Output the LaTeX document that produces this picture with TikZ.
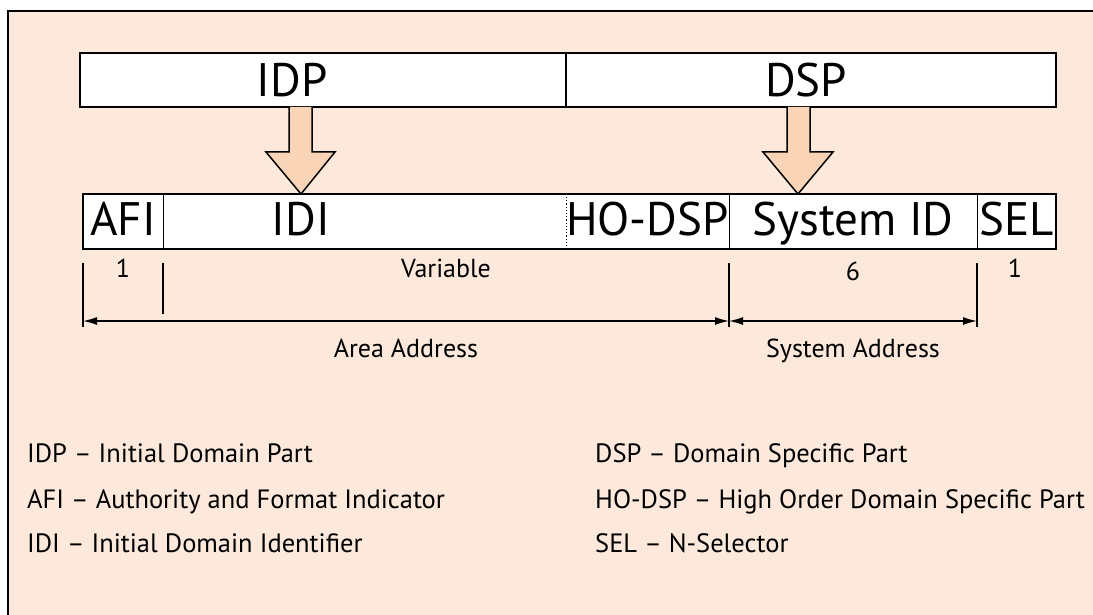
\documentclass[tikz,border=0pt]{standalone}
\usepackage{fontspec}
\setmainfont{PT Sans}
\usetikzlibrary{arrows.meta}
\definecolor{bg}{HTML}{FCE9DC}
\definecolor{arr}{HTML}{F9D4B6}
\tikzset{
  field/.style={fill=white, draw=none, inner sep=0pt, minimum height=55pt},
  topfield/.style={fill=white, draw=black, line width=1.6pt, inner sep=0pt, minimum height=54pt},
  big/.style={font=\fontsize{47}{47}\selectfont, anchor=base, inner sep=0pt},
  small/.style={font=\fontsize{26}{26}\selectfont, anchor=base, inner sep=0pt},
  legend/.style={font=\fontsize{26.5}{26.5}\selectfont, anchor=base west, inner sep=0pt},
  blockarrow/.style={fill=arr, draw=black, line width=1.5pt, line join=miter},
  tick/.style={draw=black, line width=1.4pt},
  dim/.style={draw=black, line width=1.4pt, {Latex[length=14pt,width=8pt]}-{Latex[length=14pt,width=8pt]}}
}
\begin{document}
\begin{tikzpicture}[x=1pt,y=-1pt]
\path[use as bounding box, fill=white] (0,0) rectangle (1093,615);
\fill[bg] (8,11) rectangle (1093,615);
\coordinate (fr1) at (8,615);
\coordinate (fr2) at (8,11);
\coordinate (fr3) at (1093,11);
\draw[line width=2pt] (fr1) -- (fr2) -- (fr3);

% top bar
\node[topfield, minimum width=486pt] (idpbox) at (323,80) {};
\node[topfield, minimum width=490pt] (dspbox) at (811,80) {};
\node[big] (idp) at (292,97) {IDP};
\node[big] (dsp) at (806,97) {DSP};

% block arrows
\draw[blockarrow] (289,107) -- (289,152) -- (266,152) -- (301,194) -- (335,152) -- (312,152) -- (312,107);
\draw[blockarrow] (787,107) -- (787,152) -- (763,152) -- (798,194) -- (833,152) -- (810,152) -- (810,107);

% bottom bar
\node[field, minimum width=80pt] (afi) at (123,221.5) {};
\node[field, minimum width=403pt] (idi) at (364.5,221.5) {};
\node[field, minimum width=163pt] (hodsp) at (647.5,221.5) {};
\node[field, minimum width=248pt] (sysid) at (853,221.5) {};
\node[field, minimum width=79pt] (sel) at (1016.5,221.5) {};
\draw[line width=1.8pt] (afi.north west) rectangle (sel.south east);
\draw[line width=1.2pt] (afi.north east) -- (afi.south east);
\draw[line width=1.2pt, dotted] (idi.north east) -- (idi.south east);
\draw[line width=1.2pt] (hodsp.north east) -- (hodsp.south east);
\draw[line width=1.2pt] (sysid.north east) -- (sysid.south east);

\node[big] (afit) at (123,235) {AFI};
\node[big] (idit) at (301,235) {IDI};
\node[big] (hodspt) at (647.5,235) {HO-DSP};
\node[big] (sysidt) at (853,235) {System ID};
\node[big] (selt) at (1016.5,235) {SEL};

% sizes
\node[small] (n1) at (123,277) {1};
\node[small] (nvar) at (446,277) {Variable};
\node[small] (n6) at (853,280) {6};
\node[small] (n1b) at (1015,277) {1};

% dimension ticks
\coordinate (t1a) at (83,263); \coordinate (t1b) at (83,327);
\coordinate (t2a) at (163,263); \coordinate (t2b) at (163,314);
\coordinate (t3a) at (729,263); \coordinate (t3b) at (729,327);
\coordinate (t4a) at (977,263); \coordinate (t4b) at (977,327);
\draw[tick] (t1a) -- (t1b);
\draw[tick] (t2a) -- (t2b);
\draw[tick] (t3a) -- (t3b);
\draw[tick] (t4a) -- (t4b);
\coordinate (d1) at (83,321);
\coordinate (d2) at (729,321);
\coordinate (d3) at (977,321);
\draw[dim] (d1) -- (d2);
\draw[dim] (d2) -- (d3);
\node[small] (area) at (406,357) {Area Address};
\node[small] (sysaddr) at (853,357) {System Address};

% legend
\node[legend] (l1) at (27,462) {IDP – Initial Domain Part};
\node[legend] (l2) at (27,508) {AFI – Authority and Format Indicator};
\node[legend] (l3) at (27,552) {IDI – Initial Domain Identifier};
\node[legend] (r1) at (595,462) {DSP – Domain Specific Part};
\node[legend] (r2) at (595,508) {HO-DSP – High Order Domain Specific Part};
\node[legend] (r3) at (595,552) {SEL – N-Selector};
\end{tikzpicture}
\end{document}
